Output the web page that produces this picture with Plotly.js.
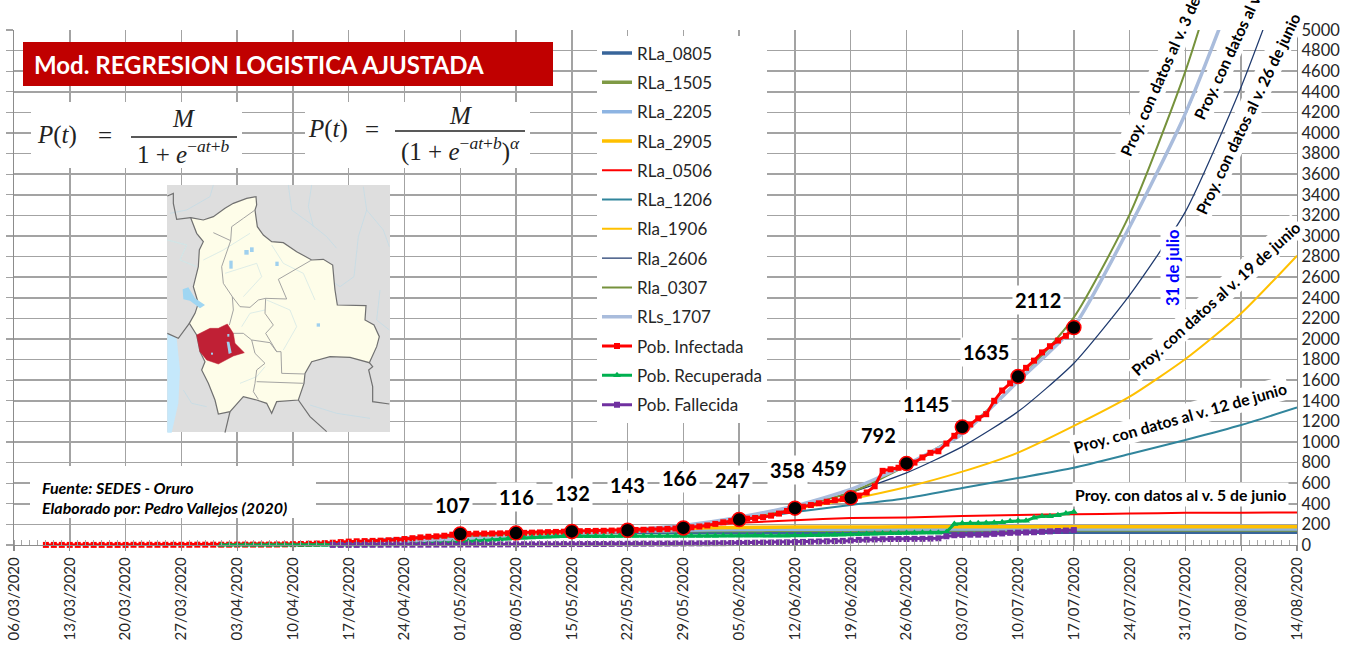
<!DOCTYPE html>
<html><head><meta charset="utf-8">
<script src="https://cdn.plot.ly/plotly-3.0.1.min.js"></script>
<style>html,body{margin:0;padding:0;background:#fff;overflow:hidden}</style>
</head><body><div id="chart" style="width:1365px;height:647px"></div>
<script>
// ---------- DATA ----------
const weeks = ['2020-04-03','2020-04-10','2020-04-17','2020-04-24','2020-05-01','2020-05-08','2020-05-15','2020-05-22','2020-05-29','2020-06-05','2020-06-12','2020-06-19','2020-06-26','2020-07-03','2020-07-10','2020-07-17','2020-07-24','2020-07-31','2020-08-07','2020-08-14'];
const RLa_0805 = [3,8,25,60,92,112,120,123,124,125,125,125,125,125,125,125,125,125,125,125];
const RLa_1505 = [5,10,22,45,75,105,124,134,139,141,143,144,145,145,145,145,145,145,145,145];
const RLa_2205 = [4,8,16,32,58,85,110,130,143,150,153,154,155,155,155,155,155,155,155,155];
const RLa_2905 = [3,7,14,28,50,80,115,145,163,171,174,175,176,176,176,176,176,176,176,176];
const RLa_0506 = [5,10,20,35,55,80,110,140,175,215,240,262,268,282,292,298,305,312,314,316];
const RLa_1206 = [3,8,18,35,55,75,100,130,170,235,320,388,455,553,650,750,883,1020,1165,1335];
const Rla_1906 = [3,8,18,35,55,78,100,135,180,260,350,445,563,712,897,1156,1440,1806,2250,2809];
const Rla_2606 = [3,8,18,35,55,78,100,135,180,255,365,510,700,955,1295,1765,2427,3237,4450,5900];
const Rla_0307 = [3,8,18,35,55,78,100,140,180,250,370,510,770,1100,1590,2210,3210,4600,6400,8800];
const RLs_1707 = [3,8,18,35,55,78,100,145,190,270,380,540,780,1080,1590,2120,3090,4190,5600,7600];

const infectedStart = '2020-03-10';
const infected = [1,1,1,1,1,1,1,1,1,1,1,2,2,2,2,2,2,2,2,3,3,3,
 3,3,4,4,4,4,4,5,6,8,10,12,14,18,22,28,33,36,38,40,42,46,50,58,66,74,80,84,90,100,
 107,108,110,111,112,113,114,116,118,120,122,125,127,129,132,134,136,137,138,140,141,143,146,148,150,153,156,160,166,172,180,
 190,205,220,232,247,256,262,270,285,305,330,358,372,388,405,420,435,448,459,480,510,570,720,735,750,792,800,850,895,910,
 985,1060,1145,1170,1230,1270,1400,1500,1570,1635,1720,1790,1870,1930,1985,2030,2112];

const recoveredStart = '2020-04-01';
const recovered = [0,0,0,0,0,0,0,0,0,0,0,0,0,0,1,1,2,2,3,3,4,5,6,8,10,12,14,16,20,24,
 30,34,38,42,48,54,60,66,70,74,78,80,82,84,85,85,86,86,86,86,87,87,87,87,87,88,88,88,88,88,88,
 88,88,89,89,89,89,90,90,90,90,91,92,93,94,95,96,97,100,102,105,108,110,112,115,115,116,116,118,118,120,
 125,205,210,210,212,214,215,220,230,235,235,265,278,280,290,305,320];

const deathsStart = '2020-04-15';
const deaths = [1,1,1,1,2,2,2,3,3,3,3,3,3,4,4,4,
 5,5,5,5,6,6,6,7,7,7,8,8,8,9,9,9,10,10,10,11,11,12,12,13,13,14,14,15,15,16,16,
 17,18,18,19,20,21,22,23,24,25,26,28,30,32,34,36,38,40,44,50,52,54,56,58,58,58,60,60,62,65,
 85,95,98,100,100,102,108,112,118,120,122,124,128,132,136,140,145];

const dotDates = ['2020-05-01','2020-05-08','2020-05-15','2020-05-22','2020-05-29','2020-06-05','2020-06-12','2020-06-19','2020-06-26','2020-07-03','2020-07-10','2020-07-17'];
const dotValues = [107,116,132,143,166,247,358,459,792,1145,1635,2112];

const xStart = '2020-03-06', xEnd = '2020-08-14';
const yTicks = 5000;

// ---------- helpers ----------
const PL = 14, PR = 1297, PT = 30, PB = 545;
const px = x => (x - PL) / (PR - PL);
const py = y => (PB - y) / (PB - PT);
const dayRun = (start, n) => { const a = [], t = Date.parse(start + 'T00:00:00Z'); for (let i = 0; i < n; i++) a.push(new Date(t + i * 864e5).toISOString().slice(0, 10)); return a; };
const FONT = 'Lato, "Open Sans", sans-serif';

const proj = (name, y, color, width) => ({ type: 'scatter', mode: 'lines', name, x: weeks, y, line: { color, width, shape: 'spline', smoothing: 0.6 }, legendgroup: name, hoverinfo: 'skip' });
const obs = (name, start, y, color, symbol, size) => ({ type: 'scatter', mode: 'lines+markers', name, x: dayRun(start, y.length), y, cliponaxis: false, line: { color, width: 3 }, marker: { color, symbol, size }, legendgroup: name, hoverinfo: 'skip' });

const traces = [
  proj('RLa_0805', RLa_0805, '#38659a', 3.5),
  proj('RLa_1505', RLa_1505, '#7f9a45', 3.5),
  proj('RLa_2205', RLa_2205, '#8db4e2', 3.5),
  proj('RLa_2905', RLa_2905, '#ffc000', 3.5),
  proj('RLa_0506', RLa_0506, '#ff0000', 2),
  proj('RLa_1206', RLa_1206, '#31859c', 2),
  proj('Rla_1906', Rla_1906, '#ffc000', 2),
  proj('Rla_2606', Rla_2606, '#1f3a6e', 1.25),
  proj('Rla_0307', Rla_0307, '#76923c', 2),
  proj('RLs_1707', RLs_1707, '#a9bcdc', 3.5),
  obs('Pob. Infectada', infectedStart, infected, '#ff0000', 'square', 6),
  obs('Pob. Recuperada', recoveredStart, recovered, '#00b050', 'triangle-up', 7),
  obs('Pob. Fallecida', deathsStart, deaths, '#7030a0', 'square', 6),
  { type: 'scatter', mode: 'markers', x: dotDates, y: dotValues, yaxis: 'y2', showlegend: false, hoverinfo: 'skip', cliponaxis: false,
    marker: { color: '#000', size: 14, line: { color: '#ff0000', width: 1.5 } } }
];

// ---------- decoration: annotations ----------
const labelPx = [[452,505],[516,497],[572,493],[627,485],[679,478],[732,480],[788,470],[829,468],[878,435],[926,404],[986,352],[1038,300]];
const note = (text, x, y, angle, size, color, extra) => Object.assign({ xref: 'paper', yref: 'paper', x: px(x), y: py(y), text, showarrow: false, textangle: angle, xanchor: 'center', yanchor: 'middle', font: { family: FONT, size, color: color || '#000' }, bgcolor: '#fff', borderpad: 2 }, extra || {});

const annotations = [];
dotValues.forEach((v, i) => annotations.push(note('<b>' + v + '</b>', labelPx[i][0], labelPx[i][1], 0, 20)));
annotations.push(
  note('<b>Proy. con datos al v. 3 de julio</b>', 1167, 61, -66, 15.8),
  note('<b>Proy. con datos al v. 17 de julio</b>', 1243, 21, -65, 15.8),
  note('<b>Proy. con datos al v. 26 de junio</b>', 1248, 114, -64.4, 15.8),
  note('<b>Proy. con datos al v. 19 de junio</b>', 1215, 298, -42, 15.8),
  note('<b>Proy. con datos al v. 12 de junio</b>', 1180, 418, -15.8, 15.8),
  note('<b>Proy. con datos al v. 5 de junio</b>', 1180, 494, 0, 15.8),
  note('<b>31 de julio</b>', 1173, 268, -90, 16.5, '#0000ff')
);
const plain = (text, x, y, size, family, color, anchor) => ({ xref: 'paper', yref: 'paper', x: px(x), y: py(y), text, showarrow: false, xanchor: anchor || 'left', yanchor: 'middle', font: { family, size, color: color || '#222' } });
const SERIF = '"Liberation Serif", serif';
annotations.push(
  plain('<b>Mod. REGRESION LOGISTICA AJUSTADA</b>', 32, 65, 24, FONT, '#fff'),
  plain('<b><i>Fuente: SEDES - Oruro</i></b>', 40, 487, 16, FONT, '#000'),
  plain('<b><i>Elaborado por: Pedro Vallejos (2020)</i></b>', 40, 507, 16, FONT, '#000'),
  plain('<i>P</i>(<i>t</i>)', 35, 135, 25, SERIF),
  plain('=', 96, 135, 25, SERIF),
  plain('<i>M</i>', 184, 119, 25, SERIF, '#222', 'center'),
  plain('1 + <i>e</i><sup>−<i>at</i>+<i>b</i></sup>', 184, 152, 25, SERIF, '#222', 'center'),
  plain('<i>P</i>(<i>t</i>)', 306, 129, 25, SERIF),
  plain('=', 363, 129, 25, SERIF),
  plain('<i>M</i>', 460, 115, 25, SERIF, '#222', 'center'),
  plain('(1 + <i>e</i><sup>−<i>at</i>+<i>b</i></sup>)<sup><i>α</i></sup>', 460, 149, 25, SERIF, '#222', 'center')
);

// ---------- decoration: shapes (pixel-placed boxes and the inset map) ----------
const rect = (x0, y0, x1, y1, fill) => ({ type: 'rect', xref: 'paper', yref: 'paper', layer: 'above', x0: px(x0), x1: px(x1), y0: py(y0), y1: py(y1), fillcolor: fill, line: { width: 0 } });
const mapX = z => px(150 + z / 3), mapY = z => py(170 + z / 3);
const mapPath = (pts, closed) => 'M' + pts.map(p => mapX(p[0]).toFixed(5) + ',' + mapY(p[1]).toFixed(5)).join('L') + (closed ? 'Z' : '');
const mapShape = (pts, closed, fill, color, width) => ({ type: 'path', xref: 'paper', yref: 'paper', layer: 'above', path: mapPath(pts, closed), fillcolor: fill || 'rgba(0,0,0,0)', line: { color: color || 'rgba(0,0,0,0)', width: width === undefined ? 1 : width } });

const country = [[122,143],[160,150],[190,140],[225,115],[250,100],[290,85],[318,80],[320,105],[315,120],[322,170],[340,195],[365,215],[400,218],[440,245],[485,270],[520,268],[548,285],[552,330],[555,360],[562,405],[648,407],[645,450],[672,465],[688,500],[680,530],[658,578],[600,562],[540,560],[485,575],[465,610],[462,640],[445,690],[380,695],[365,730],[350,700],[320,690],[280,680],[240,725],[205,732],[195,690],[175,640],[155,600],[165,575],[150,545],[140,495],[118,460],[135,430],[145,400],[130,350],[145,290],[148,240],[160,215],[140,190]];
const oruro = [[140,495],[180,475],[205,475],[232,462],[250,490],[255,520],[283,548],[250,558],[205,582],[170,570],[150,545]];
const ocean = [[52,490],[80,505],[90,600],[85,700],[65,788],[52,788]];
const titicaca = [[98,358],[115,352],[135,385],[165,405],[150,415],[120,392],[100,388]];
const poopo = [[230,515],[238,515],[245,548],[236,552]];
const lakesSmall = [[[283,240],[296,240],[296,254],[283,254]],[[300,232],[311,232],[311,246],[300,246]],[[238,272],[248,272],[248,296],[238,296]],[[376,275],[386,275],[386,288],[376,288]],[[500,460],[510,460],[510,470],[500,470]],[[232,492],[238,492],[238,500],[232,500]],[[183,548],[189,548],[189,554],[183,554]]];
const neighbours = [[[118,460],[85,505],[52,490]],[[122,143],[80,148],[70,100],[70,70],[52,78]],[[658,578],[668,590],[656,600],[668,650],[668,695],[718,702]],[[445,690],[480,740],[530,785]],[[240,725],[225,788]]];
const depts = [[[190,188],[242,212]],[[242,212],[245,170],[280,145],[315,120]],[[242,212],[215,290],[220,340],[247,380],[270,410],[300,412],[325,390],[347,385],[410,387]],[[485,270],[385,328],[410,387]],[[247,380],[250,420],[238,465]],[[347,385],[345,430],[370,465],[347,490],[380,545],[393,545]],[[393,545],[395,610],[465,612]],[[250,490],[280,490],[305,510],[360,518],[380,545]],[[305,510],[315,550],[345,580],[320,600],[315,640],[310,665],[325,688]],[[320,635],[462,640]]];
const rivers = [[[60,130],[110,120],[180,80],[190,45]],[[415,45],[425,120],[480,160],[530,200],[560,235]],[[485,45],[475,110],[490,170]],[[640,50],[650,120],[625,200],[612,320],[570,350],[555,340]],[[650,120],[700,180],[718,230]],[[365,225],[400,280],[460,310],[495,390]],[[225,310],[320,280],[335,320],[280,380]],[[350,390],[420,420],[440,470],[400,540]],[[52,210],[110,225],[90,270],[140,290]],[[160,270],[220,240],[300,190]],[[275,470],[300,430],[345,420]],[[270,640],[320,620],[345,590]],[[480,705],[560,730],[660,745]],[[690,360],[680,450],[718,480]],[[100,660],[125,700],[170,710]]];

const shapes = [
  rect(23, 42, 553, 86, '#c00000'),
  rect(31, 102, 242, 168, '#fff'),
  rect(305, 102, 530, 168, '#fff'),
  rect(30, 466, 316, 518, '#fff'),
  { type: 'line', xref: 'paper', yref: 'paper', layer: 'above', x0: px(131), x1: px(237), y0: py(137), y1: py(137), line: { color: '#222', width: 1.5 } },
  { type: 'line', xref: 'paper', yref: 'paper', layer: 'above', x0: px(395), x1: px(525), y0: py(131), y1: py(131), line: { color: '#222', width: 1.5 } },
  rect(167, 185, 390, 432, '#dedede'),
  mapShape(ocean, true, '#c5e8fb'),
  ...rivers.map(r => mapShape(r, false, null, '#c4dce6', 0.8)),
  ...neighbours.map(n => mapShape(n, false, null, '#707070', 1.2)),
  mapShape(country, true, '#fefde9', '#707070', 1.2),
  ...rivers.slice(5, 12).map(r => mapShape(r, false, null, '#d5e8e6', 0.8)),
  ...depts.map(d => mapShape(d, false, null, '#9a9a9a', 0.9)),
  mapShape(oruro, true, '#c02035', '#c02035', 0.5),
  mapShape(titicaca, true, '#9fd6f2'),
  mapShape(poopo, true, '#9fd0ee'),
  ...lakesSmall.map(l => mapShape(l, true, '#9fd0ee'))
];

// ---------- layout ----------
const layout = {
  width: 1365, height: 647, autosize: false,
  margin: { l: PL, r: 1365 - PR, t: PT, b: 647 - PB, pad: 0 },
  paper_bgcolor: '#fff', plot_bgcolor: '#fff',
  font: { family: FONT, color: '#262626' },
  showlegend: true,
  legend: { x: px(597), y: py(35.5), xanchor: 'left', yanchor: 'top', bgcolor: '#fff', borderwidth: 0, itemwidth: 30, tracegroupgap: 4.2, traceorder: 'grouped', font: { family: FONT, size: 17, color: '#262626' }, itemclick: false, itemdoubleclick: false },
  xaxis: {
    type: 'date', range: [xStart, xEnd], tick0: xStart, dtick: 7 * 864e5, tickformat: '%d/%m/%Y', tickangle: -90,
    tickfont: { family: FONT, size: 15, color: '#262626' }, ticks: 'outside', ticklen: 5, tickcolor: '#8c8c8c', tickwidth: 1.25,
    showgrid: true, gridcolor: '#a3a3a3', gridwidth: 1.5, showline: true, linecolor: '#8c8c8c', linewidth: 1.25, zeroline: false,
    minor: { dtick: 864e5, tick0: xStart, ticks: 'inside', ticklen: 5, tickcolor: '#a6a6a6', tickwidth: 1, showgrid: false }
  },
  yaxis: {
    range: [0, yTicks], side: 'right', tick0: 0, dtick: 200, tickfont: { family: FONT, size: 16.5, color: '#262626' },
    showgrid: true, gridcolor: '#a3a3a3', gridwidth: 1.5, zeroline: false, ticks: '', showline: true, linecolor: '#8c8c8c', linewidth: 1.25
  },
  yaxis2: {
    range: [0, yTicks], overlaying: 'y', side: 'left', tick0: 0, dtick: 200, showticklabels: false, ticks: 'outside', ticklen: 7, tickcolor: '#a3a3a3', tickwidth: 1.25,
    showgrid: false, zeroline: false, showline: true, linecolor: '#8c8c8c', linewidth: 1.25
  },
  annotations, shapes
};
Plotly.newPlot('chart', traces, layout, { staticPlot: true, displayModeBar: false });
</script></body></html>
